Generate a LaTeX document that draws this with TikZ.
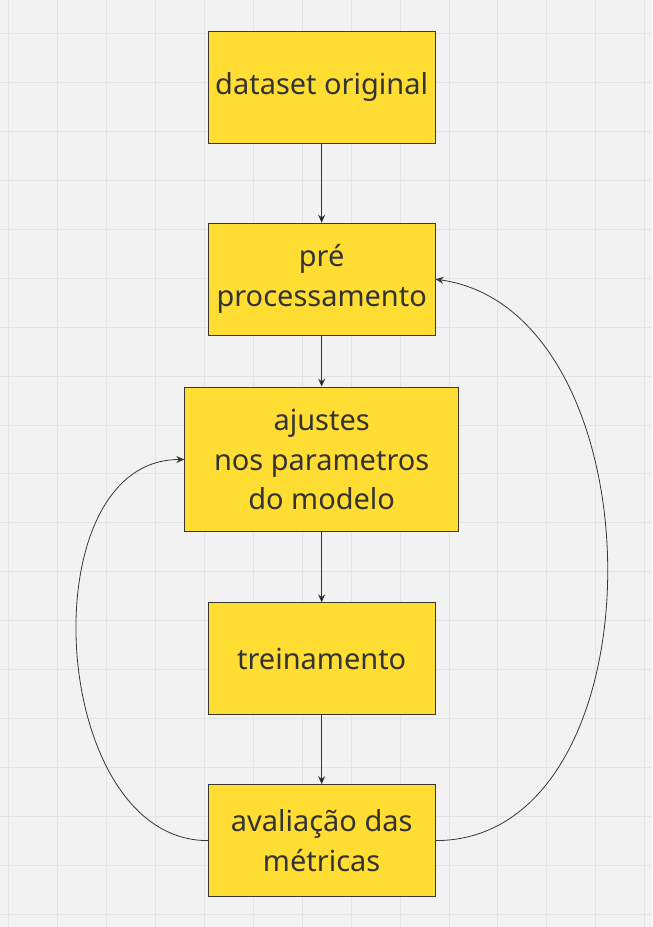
\documentclass[tikz,border=0pt]{standalone}
\usepackage{fontspec}
\setmainfont{Noto Sans}
\usetikzlibrary{arrows.meta,positioning}

\definecolor{boardbg}{HTML}{F2F2F2}
\definecolor{boardgrid}{HTML}{E4E4E4}
\definecolor{stickyfill}{HTML}{FFDD33}
\definecolor{stickyline}{HTML}{383630}
\definecolor{inktext}{HTML}{333333}

\begin{document}
\begin{tikzpicture}[x=1pt, y=-1pt, >={Stealth[length=8pt,width=7pt]}, node distance=70pt,
	sticky/.style={rectangle, draw=stickyline, fill=stickyfill, line width=1pt,
		minimum width=227pt, minimum height=112pt, inner sep=0pt, align=center,
		text=inktext, font=\fontsize{29}{40}\selectfont},
	flow/.style={->, draw=stickyline, line width=1pt},
	loopback/.style={->, draw=stickyline, line width=0.8pt}]
	% Board with grid
	\fill [boardbg] (0,0) rectangle (652,927);
	\foreach \gx in {8,57,...,652} \draw [boardgrid, line width=1pt] (\gx,0) -- (\gx,927);
	\foreach \gy in {33,82,...,927} \draw [boardgrid, line width=1pt] (0,\gy) -- (652,\gy);
	\useasboundingbox (0,0) rectangle (652,927);

	% Nodes {d1, d2, d3, d4, d5}
	\node [sticky] (d1) at (321.5,87)  {dataset original};
	\node [sticky] (d2) [below=79pt of d1] {pré\\processamento};
	\node [sticky, minimum width=274pt, minimum height=145pt] (d3) [below=51pt of d2] {ajustes\\nos parametros\\do modelo};
	\node [sticky] (d4) [below=of d3] {treinamento};
	\node [sticky] (d5) [below=69pt of d4] {avaliação das\\métricas};

	% Paths {{1, 2}, {2, 3}, {3, 4}, {4, 5}, {5, 2}, {5, 3}}
	\path [flow] (d1) edge (d2)
				(d2) edge (d3)
				(d3) edge (d4)
				(d4) edge (d5);
	\draw [loopback] (d5.east) .. controls +(230,0) and +(228,32) .. (d2.east);
	\draw [loopback] (d5.west) .. controls +(-160,0) and +(-157,0) .. (d3.west);
\end{tikzpicture}
\end{document}
